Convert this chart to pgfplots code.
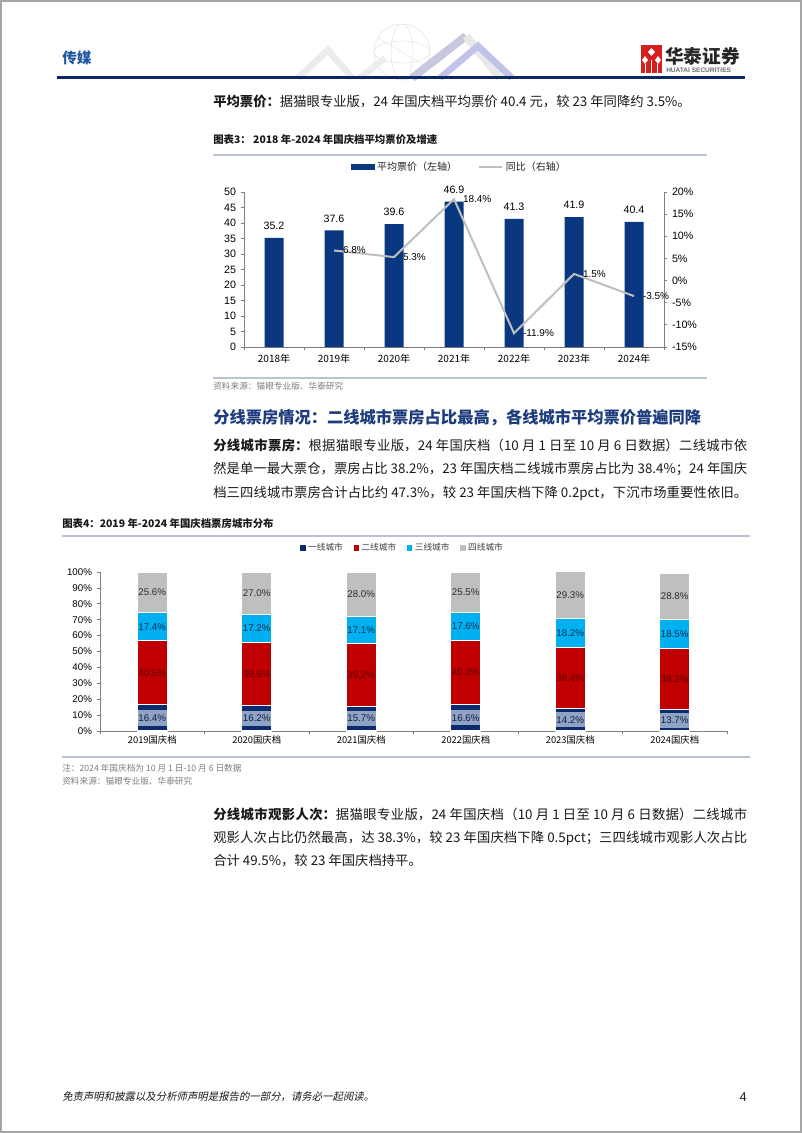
\documentclass[border=0pt]{standalone}
\usepackage{pgfplots}
\pgfplotsset{compat=1.18}
\usepackage{fontspec}
\setmainfont{Noto Sans CJK SC}
\newfontfamily\arial{Liberation Sans}
\newfontfamily\cjkit[FakeSlant=0.2]{Noto Sans CJK SC}
\XeTeXlinebreaklocale "zh"
\XeTeXlinebreakskip=0pt plus 2pt minus 0.1pt
\newcommand\fs[1]{\fontsize{#1}{#1}\selectfont}
\definecolor{navy}{RGB}{10,56,128}
\definecolor{navyb}{RGB}{12,42,110}
\definecolor{hnavy}{RGB}{10,40,100}
\definecolor{redc}{RGB}{192,0,0}
\definecolor{cyanc}{RGB}{0,176,240}
\definecolor{grayc}{RGB}{191,191,191}
\definecolor{steel}{RGB}{143,163,197}
\definecolor{linegray}{RGB}{191,191,191}
\definecolor{headblue}{RGB}{28,60,125}
\definecolor{topblue}{RGB}{30,85,160}
\definecolor{srcgray}{RGB}{125,125,125}
\definecolor{rulec}{RGB}{185,195,212}
\definecolor{axgray}{RGB}{128,128,128}
\definecolor{logored}{RGB}{214,32,30}
\definecolor{txt}{RGB}{25,25,25}
\newcommand\jline[2]{\node[anchor=west, inner sep=0pt, text width=400.5pt, align=justify, font=\fs{10}, text=txt] at (213,#1) {\parfillskip=0pt\relax #2\par};}
\newcommand\pline[2]{\node[anchor=west, inner sep=0pt, font=\fs{10}, text=txt] at (213,#1) {#2};}
\begin{document}
\begin{tikzpicture}
\begin{scope}[x=0.75pt,y=-0.75pt]
\useasboundingbox (0,0) rectangle (802,1133);
\fill[white] (0,0) rectangle (802,1133);
\draw[gray!70, line width=1.2pt] (0.8,0.8) rectangle (801.2,1132.2);
% header decoration
\draw[gray!15, line width=5pt] (298,78) -- (328,50) -- (352,78);
\draw[gray!22] (402,52) circle (28);
\draw[gray!22] (402,52) ellipse (28 and 11);
\draw[gray!22] (402,52) ellipse (11 and 28);
\draw[gray!18] (378,38) -- (426,66);
\draw[blue!25!gray!35, line width=6pt] (412,78) -- (466,36);
\draw[gray!18, line width=6pt] (466,36) -- (500,78);
\draw[cyan!30!blue!25, line width=5pt] (440,78) -- (478,46) -- (512,78);
\draw[gray!14, line width=5pt] (360,78) -- (385,58);
% logo
\fill[logored] (641,45) rectangle (662,73);
\fill[white] (651.5,48) -- (655,52) -- (651.5,56) -- (648,52) -- cycle;
\fill[white] (645,56) -- (648,60) -- (645,64) -- (642,60) -- cycle;
\fill[white] (658,56) -- (661,60) -- (658,64) -- (655,60) -- cycle;
\fill[white] (645,64) rectangle (646,73);
\fill[white] (651,60) rectangle (652,73);
\fill[white] (657,64) rectangle (658,73);
\node[anchor=west, inner sep=0pt, font=\fs{14}\bfseries, text=black!85] at (665,56) {华泰证券};
\node[anchor=west, inner sep=0pt, font=\arial\bfseries\fs{4.9}, text=gray!85!black] at (666,70.5) {HUATAI SECURITIES};
\node[anchor=west, inner sep=0pt, font=\fs{11}\bfseries, text=topblue] at (62,58) {传媒};
\draw[hnavy, line width=1.6pt] (57,77.5) -- (745,77.5);
% text block 1
\pline{101}{\textbf{平均票价：}据猫眼专业版，24 年国庆档平均票价 40.4 元，较 23 年同降约 3.5\%。}
\node[anchor=west, inner sep=0pt, font=\fs{7.8}\bfseries, text=txt] at (213,140) {图表3：\ 2018 年-2024 年国庆档平均票价及增速};
\draw[rulec, line width=0.9pt] (213,155) -- (707,155);
\draw[rulec, line width=0.9pt] (213,378) -- (707,378);
\node[anchor=west, inner sep=0pt, font=\fs{6.5}, text=srcgray] at (213,386) {资料来源：猫眼专业版、华泰研究};
\node[anchor=west, inner sep=0pt, font=\fs{12.2}\bfseries, text=headblue] at (213,418) {分线票房情况：二线城市票房占比最高，各线城市平均票价普遍同降};
\jline{445}{\textbf{分线城市票房：}根据猫眼专业版，24 年国庆档（10 月 1 日至 10 月 6 日数据）二线城市依}
\jline{469}{然是单一最大票仓，票房占比 38.2\%，23 年国庆档二线城市票房占比为 38.4\%；24 年国庆}
\jline{493}{档三四线城市票房合计占比约 47.3\%，较 23 年国庆档下降 0.2pct，下沉市场重要性依旧。}
% chart 4 frame texts
\node[anchor=west, inner sep=0pt, font=\fs{7.8}\bfseries, text=txt] at (62,524) {图表4：2019 年-2024 年国庆档票房城市分布};
\draw[rulec, line width=0.9pt] (62,536) -- (750,536);
\draw[rulec, line width=0.9pt] (62,757) -- (750,757);
\node[anchor=west, inner sep=0pt, font=\fs{6.5}, text=srcgray] at (62,768) {注：2024 年国庆档为 10 月 1 日-10 月 6 日数据};
\node[anchor=west, inner sep=0pt, font=\fs{6.5}, text=srcgray] at (62,781) {资料来源：猫眼专业版、华泰研究};
% text block 2
\jline{814}{\textbf{分线城市观影人次：}据猫眼专业版，24 年国庆档（10 月 1 日至 10 月 6 日数据）二线城市}
\jline{838}{观影人次占比仍然最高，达 38.3\%，较 23 年国庆档下降 0.5pct；三四线城市观影人次占比}
\pline{861}{合计 49.5\%，较 23 年国庆档持平。}
% footer
\node[anchor=west, inner sep=0pt, font=\cjkit\fs{7.8}, text=txt] at (62,1097) {免责声明和披露以及分析师声明是报告的一部分，请务必一起阅读。};
\node[anchor=east, inner sep=0pt, font=\arial\fs{9.5}, text=txt] at (747,1097) {4};
\end{scope}

% ---------- Chart 3: bars (left axis) ----------
\begin{axis}[
  at={(183pt,-260.25pt)}, anchor=south west,
  scale only axis, width=315pt, height=116.25pt,
  xmin=-0.5, xmax=6.5, ymin=0, ymax=50,
  axis x line*=bottom, axis y line*=left,
  axis line style={draw=axgray, line width=0.6pt},
  tick align=outside, major tick length=2.5pt,
  tick style={draw=axgray, line width=0.6pt},
  ytick={0,5,...,50},
  yticklabel style={font=\arial\fs{8}, text=black},
  xtick={-0.5,0.5,...,6.5}, xticklabels={},
  extra x ticks={0,1,2,3,4,5,6},
  extra x tick labels={2018年,2019年,2020年,2021年,2022年,2023年,2024年},
  extra x tick style={major tick length=0pt, tick label style={font=\fs{7.5}, text=black, yshift=-2pt}},
  /pgf/number format/assume math mode=true,
  clip=false,
]
\addplot[ybar, bar width=14.25pt, fill=navy, draw=none,
  nodes near coords={\pgfmathprintnumber[fixed,fixed zerofill,precision=1]{\pgfplotspointmeta}},
  nodes near coords style={font=\arial\fs{8}, anchor=center, yshift=9pt, text=black}]
  coordinates {(0,35.2) (1,37.6) (2,39.6) (3,46.9) (4,41.3) (5,41.9) (6,40.4)};
\end{axis}

% ---------- Chart 3: growth line (right axis) ----------
\begin{axis}[
  at={(183pt,-260.25pt)}, anchor=south west,
  scale only axis, width=315pt, height=116.25pt,
  xmin=-0.5, xmax=6.5, ymin=-15, ymax=20,
  axis y line*=right, axis x line=none,
  axis line style={draw=axgray, line width=0.6pt},
  tick align=outside, major tick length=2.5pt,
  tick style={draw=axgray, line width=0.6pt},
  ytick={-15,-10,...,20},
  yticklabel={\pgfmathprintnumber{\tick}\%},
  yticklabel style={font=\arial\fs{8}, text=black},
  /pgf/number format/assume math mode=true,
  clip=false,
  legend style={at={(0.514,1.163)}, anchor=center, draw=none, fill=none, font=\fs{7.5}, text=black!85,
    legend columns=2, /tikz/every even column/.append style={column sep=14pt}},
]
\addlegendimage{legend image code/.code={\fill[navy] (0pt,-2pt) rectangle (17pt,2pt);}}
\addlegendentry{平均票价（左轴）}
\addplot[color=linegray, line width=1.5pt, mark=none,
  legend image code/.code={\draw[linegray, line width=1.5pt] (0pt,0pt) -- (17pt,0pt);},
  nodes near coords={\pgfmathprintnumber[fixed,fixed zerofill,precision=1]{\pgfplotspointmeta}\%},
  nodes near coords style={font=\arial\fs{7.5}, anchor=west, xshift=6pt, inner sep=0pt, text=black}]
  coordinates {(1,6.8) (2,5.3) (3,18.4) (4,-11.9) (5,1.5) (6,-3.5)};
\addlegendentry{同比（右轴）}
\end{axis}

% ---------- Chart 4: stacked bars ----------
\begin{axis}[
  at={(75pt,-548.25pt)}, anchor=south west,
  scale only axis, width=470.25pt, height=119.25pt,
  ybar stacked, bar width=22.5pt,
  xmin=-0.5, xmax=5.5, ymin=0, ymax=100,
  axis x line*=bottom, axis y line*=left,
  axis line style={draw=axgray, line width=0.6pt},
  tick align=outside, major tick length=2.5pt,
  tick style={draw=axgray, line width=0.6pt},
  ytick={0,10,...,100},
  yticklabel={\pgfmathprintnumber{\tick}\%},
  yticklabel style={font=\arial\fs{7.3}, text=black},
  xtick={-0.5,0.5,...,5.5}, xticklabels={},
  extra x ticks={0,1,2,3,4,5},
  extra x tick labels={2019国庆档,2020国庆档,2021国庆档,2022国庆档,2023国庆档,2024国庆档},
  extra x tick style={major tick length=0pt, tick label style={font=\fs{7}, text=black}},
  /pgf/number format/assume math mode=true,
  clip=false,
  legend style={at={(0.483,1.151)}, anchor=center, draw=none, fill=none, font=\fs{6.5}, text=black!75,
    legend columns=4, /tikz/every even column/.append style={column sep=6pt}},
  sq/.style={legend image code/.code={\fill[#1] (0pt,-1.6pt) rectangle (3.2pt,1.6pt);}},
]
\addplot[fill=navyb, draw=white, line width=0.8pt, sq=navyb] coordinates {(0,16.4) (1,16.2) (2,15.7) (3,16.6) (4,14.2) (5,13.7)};
\addlegendentry{一线城市}
\addplot[fill=redc, draw=white, line width=0.8pt, sq=redc] coordinates {(0,40.5) (1,39.6) (2,39.2) (3,40.3) (4,38.4) (5,38.2)};
\addlegendentry{二线城市}
\addplot[fill=cyanc, draw=white, line width=0.8pt, sq=cyanc] coordinates {(0,17.4) (1,17.2) (2,17.1) (3,17.6) (4,18.2) (5,18.5)};
\addlegendentry{三线城市}
\addplot[fill=grayc, draw=white, line width=0.8pt, sq=grayc] coordinates {(0,25.6) (1,27.0) (2,28.0) (3,25.5) (4,29.3) (5,28.8)};
\addlegendentry{四线城市}
\end{axis}

% ---------- Chart 4: labels overlay ----------
\begin{axis}[
  at={(75pt,-548.25pt)}, anchor=south west,
  scale only axis, width=470.25pt, height=119.25pt,
  xmin=-0.5, xmax=5.5, ymin=0, ymax=100,
  hide axis, clip=false,
  /pgf/number format/assume math mode=true,
]
\addplot[draw=none, point meta=explicit,
  nodes near coords={\pgfmathprintnumber[fixed,fixed zerofill,precision=1]{\pgfplotspointmeta}\%},
  nodes near coords style={anchor=center, font=\arial\fs{7.3}, text={rgb,255:red,20;green,30;blue,60},
    fill=steel, minimum width=21.7pt, minimum height=11.3pt, inner sep=0pt}]
  table[meta=v] {
x y v
0 8.2 16.4
1 8.1 16.2
2 7.85 15.7
3 8.3 16.6
4 7.1 14.2
5 6.85 13.7
};
\addplot[draw=none, point meta=explicit,
  nodes near coords={\pgfmathprintnumber[fixed,fixed zerofill,precision=1]{\pgfplotspointmeta}\%},
  nodes near coords style={anchor=center, font=\arial\fs{7.3}, text={rgb,255:red,95;green,0;blue,0}}]
  table[meta=v] {
x y v
0 36.65 40.5
1 36.0 39.6
2 35.3 39.2
3 36.75 40.3
4 33.4 38.4
5 32.8 38.2
};
\addplot[draw=none, point meta=explicit,
  nodes near coords={\pgfmathprintnumber[fixed,fixed zerofill,precision=1]{\pgfplotspointmeta}\%},
  nodes near coords style={anchor=center, font=\arial\fs{7.3}, text={rgb,255:red,15;green,45;blue,85}}]
  table[meta=v] {
x y v
0 65.6 17.4
1 64.4 17.2
2 63.45 17.1
3 65.7 17.6
4 61.7 18.2
5 61.15 18.5
};
\addplot[draw=none, point meta=explicit,
  nodes near coords={\pgfmathprintnumber[fixed,fixed zerofill,precision=1]{\pgfplotspointmeta}\%},
  nodes near coords style={anchor=center, font=\arial\fs{7.3}, text={rgb,255:red,45;green,45;blue,45}}]
  table[meta=v] {
x y v
0 87.1 25.6
1 86.5 27.0
2 86.0 28.0
3 87.25 25.5
4 85.45 29.3
5 84.8 28.8
};
\end{axis}
\end{tikzpicture}
\end{document}
